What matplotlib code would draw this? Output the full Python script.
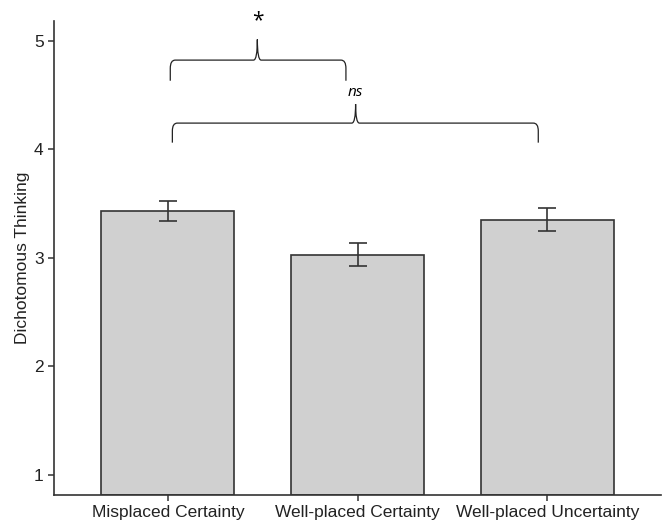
import matplotlib
matplotlib.use("Agg")
import matplotlib.pyplot as plt
from matplotlib.path import Path
from matplotlib.patches import PathPatch

# group means and standard errors
groups = ["Misplaced Certainty", "Well-placed Certainty", "Well-placed Uncertainty"]
means = [3.43, 3.03, 3.35]
errors = [0.09, 0.105, 0.105]

# significance brackets: (left, right, tip x, line y, leg drop, tip height, label, label y)
brackets = [
    (0.013, 0.939, 0.472, 4.82, 0.19, 0.19, "*", 5.18),
    (0.024, 1.953, 0.99, 4.24, 0.18, 0.175, "ns", 4.525),
]

plt.rcParams["font.family"] = ["Liberation Sans", "DejaVu Sans"]

fig = plt.figure(figsize=(6.65, 5.2), dpi=100)
ax = fig.add_axes([54 / 665, 25 / 520, 607 / 665, 474 / 520])

x = list(range(len(groups)))
ax.bar(x, [m - 0.816 for m in means], bottom=0.816, width=0.7,
       color="#d0d0d0", edgecolor="#333333", linewidth=1.2, zorder=2)
ax.errorbar(x, means, yerr=errors, fmt="none", ecolor="#333333",
            elinewidth=1.2, capsize=6.5, capthick=1.2, zorder=3)


def brace(ax, x0, x1, xm, y, drop, tip):
    # curly bracket: legs hang down, spike points up at xm
    rx = 0.026
    rt = 0.02
    verts = [
        (x0, y - drop), (x0, y - drop * 0.4),
        (x0, y), (x0 + rx, y),
        (xm - rt, y),
        (xm, y), (xm, y + tip),
        (xm, y), (xm + rt, y),
        (x1 - rx, y),
        (x1, y), (x1, y - drop * 0.4),
        (x1, y - drop),
    ]
    codes = [
        Path.MOVETO, Path.LINETO,
        Path.CURVE3, Path.CURVE3,
        Path.LINETO,
        Path.CURVE3, Path.CURVE3,
        Path.CURVE3, Path.CURVE3,
        Path.LINETO,
        Path.CURVE3, Path.CURVE3,
        Path.LINETO,
    ]
    ax.add_patch(PathPatch(Path(verts, codes), facecolor="none",
                           edgecolor="#222222", linewidth=0.9, clip_on=False))


for x0, x1, xm, y, drop, tip, label, ly in brackets:
    brace(ax, x0, x1, xm, y, drop, tip)
    if label == "ns":
        ax.text(xm, ly, label, ha="center", va="center", fontsize=11,
                style="italic", family=["Open Sans", "DejaVu Sans"])
    else:
        ax.text(xm, ly, label, ha="center", va="center", fontsize=15,
                family=["Open Sans", "DejaVu Sans"], clip_on=False)

ax.set_xlim(-0.6, 2.6)
ax.set_ylim(0.816, 5.18)
ax.set_xticks(x)
ax.set_xticklabels(groups, fontsize=12.5)
ax.set_yticks([1, 2, 3, 4, 5])
ax.tick_params(axis="both", labelsize=12.5, colors="#333333", length=4,
               width=1.1, labelcolor="#222222")
ax.set_ylabel("Dichotomous Thinking", fontsize=12.5, color="#222222", labelpad=3)

for side in ["top", "right"]:
    ax.spines[side].set_visible(False)
for side in ["left", "bottom"]:
    ax.spines[side].set_color("#333333")
    ax.spines[side].set_linewidth(1.2)

fig.savefig("out.png", dpi=100)
